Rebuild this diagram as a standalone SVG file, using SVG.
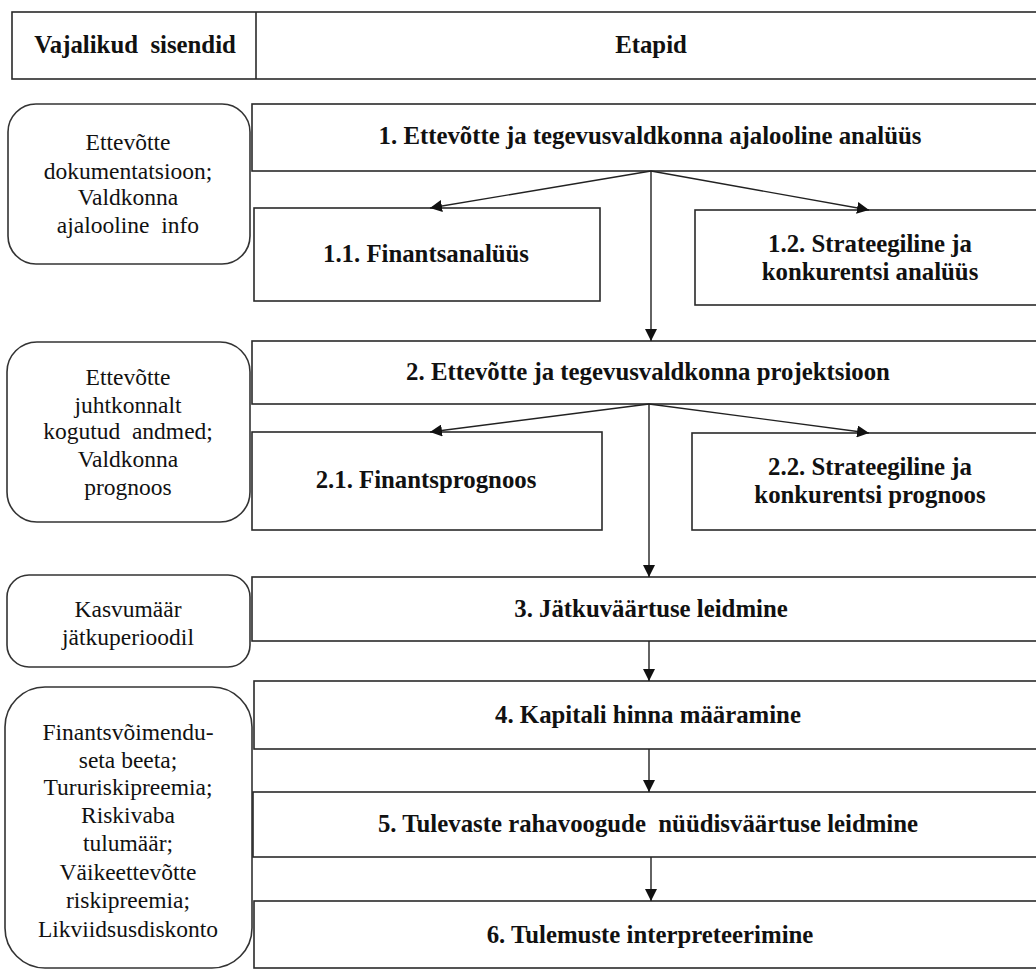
<svg xmlns="http://www.w3.org/2000/svg" width="1036" height="970" viewBox="0 0 1036 970">
<style>
.box{fill:#fff;stroke:#2a2a2a;stroke-width:1.6}
.rbox{fill:#fff;stroke:#333;stroke-width:1.6}
.b{font-family:"Liberation Serif","Times New Roman",serif;font-weight:bold;font-size:24.8px;fill:#111;text-anchor:middle;white-space:pre}
.r{font-family:"Liberation Serif","Times New Roman",serif;font-size:23.5px;fill:#111;text-anchor:middle;white-space:pre}
.c{stroke:#222;stroke-width:1.4;fill:none;marker-end:url(#ah)}
</style>
<defs>
<marker id="ah" markerUnits="userSpaceOnUse" markerWidth="12" markerHeight="12" refX="12" refY="6" orient="auto">
<path d="M0,0 L12,6 L0,12 z" fill="#111"/>
</marker>
</defs>
<rect width="1036" height="970" fill="#fff"/>

<g id="header">
<rect class="box" x="12" y="12" width="1040" height="67"/>
<line x1="256" y1="12" x2="256" y2="79" stroke="#2a2a2a" stroke-width="1.6"/>
<text class="b" x="135" y="53">Vajalikud  sisendid</text>
<text class="b" x="651" y="53">Etapid</text>
</g>

<g id="input1">
<rect class="rbox" x="8" y="104" width="242" height="160" rx="28"/>
<text class="r" x="128" y="150">Ettevõtte</text>
<text class="r" x="128" y="179">dokumentatsioon;</text>
<text class="r" x="128" y="205">Valdkonna</text>
<text class="r" x="128" y="233">ajalooline  info</text>
</g>
<g id="input2">
<rect class="rbox" x="7" y="342" width="243" height="180" rx="30"/>
<text class="r" x="128" y="385">Ettevõtte</text>
<text class="r" x="128" y="413">juhtkonnalt</text>
<text class="r" x="128" y="439">kogutud  andmed;</text>
<text class="r" x="128" y="467">Valdkonna</text>
<text class="r" x="128" y="495">prognoos</text>
</g>
<g id="input3">
<rect class="rbox" x="7" y="575" width="243" height="92" rx="22"/>
<text class="r" x="128" y="617">Kasvumäär</text>
<text class="r" x="128" y="645">jätkuperioodil</text>
</g>
<g id="input4">
<rect class="rbox" x="5" y="687" width="247" height="281" rx="40"/>
<text class="r" x="128" y="740">Finantsvõimendu-</text>
<text class="r" x="128" y="768">seta beeta;</text>
<text class="r" x="128" y="795">Tururiskipreemia;</text>
<text class="r" x="128" y="823">Riskivaba</text>
<text class="r" x="128" y="851">tulumäär;</text>
<text class="r" x="128" y="880">Väikeettevõtte</text>
<text class="r" x="128" y="908">riskipreemia;</text>
<text class="r" x="128" y="937">Likviidsusdiskonto</text>
</g>

<g id="stage1">
<rect class="box" x="252" y="104" width="800" height="67"/>
<text class="b" x="650" y="144">1. Ettevõtte ja tegevusvaldkonna ajalooline analüüs</text>
</g>
<g id="stage1-1">
<rect class="box" x="254" y="208" width="346" height="93"/>
<text class="b" x="426" y="262">1.1. Finantsanalüüs</text>
</g>
<g id="stage1-2">
<rect class="box" x="695" y="210" width="360" height="95"/>
<text class="b" x="870" y="252">1.2. Strateegiline ja</text>
<text class="b" x="870" y="280">konkurentsi analüüs</text>
</g>
<g id="stage2">
<rect class="box" x="252" y="341" width="800" height="63"/>
<text class="b" x="648" y="380">2. Ettevõtte ja tegevusvaldkonna projektsioon</text>
</g>
<g id="stage2-1">
<rect class="box" x="252" y="432" width="350" height="98"/>
<text class="b" x="426" y="488">2.1. Finantsprognoos</text>
</g>
<g id="stage2-2">
<rect class="box" x="692" y="433" width="360" height="97"/>
<text class="b" x="870" y="475">2.2. Strateegiline ja</text>
<text class="b" x="870" y="503">konkurentsi prognoos</text>
</g>
<g id="stage3">
<rect class="box" x="252" y="577" width="800" height="64"/>
<text class="b" x="651" y="617">3. Jätkuväärtuse leidmine</text>
</g>
<g id="stage4">
<rect class="box" x="254" y="681" width="800" height="68"/>
<text class="b" x="648" y="723">4. Kapitali hinna määramine</text>
</g>
<g id="stage5">
<rect class="box" x="253" y="792" width="800" height="65"/>
<text class="b" x="648" y="832">5. Tulevaste rahavoogude  nüüdisväärtuse leidmine</text>
</g>
<g id="stage6">
<rect class="box" x="254" y="901" width="800" height="67"/>
<text class="b" x="650" y="943">6. Tulemuste interpreteerimine</text>
</g>

<g id="connectors">
<line class="c" x1="651" y1="171" x2="430" y2="208"/>
<line class="c" x1="651" y1="171" x2="869" y2="210"/>
<line class="c" x1="651" y1="171" x2="651" y2="341"/>
<line class="c" x1="649" y1="404" x2="430" y2="432"/>
<line class="c" x1="649" y1="404" x2="869" y2="433"/>
<line class="c" x1="649" y1="404" x2="649" y2="577"/>
<line class="c" x1="649" y1="641" x2="649" y2="681"/>
<line class="c" x1="649" y1="749" x2="649" y2="792"/>
<line class="c" x1="651" y1="857" x2="651" y2="901"/>
</g>
</svg>
